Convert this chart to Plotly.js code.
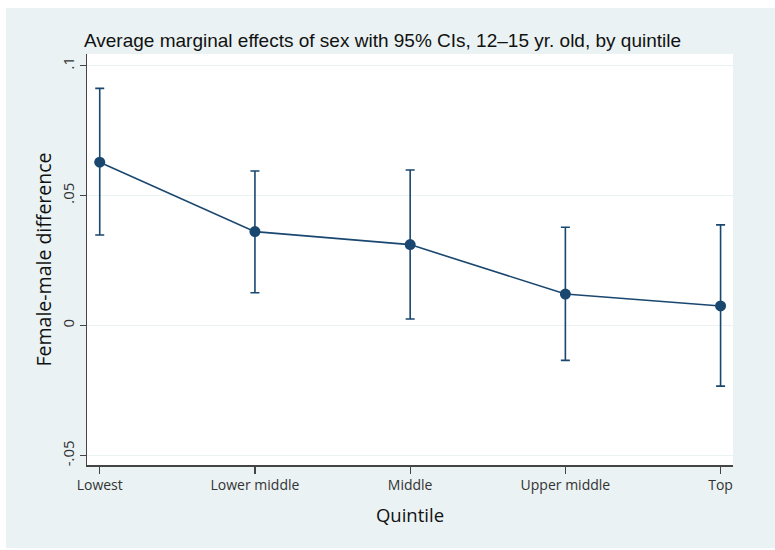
<!DOCTYPE html>
<html>
<head>
<meta charset="utf-8">
<script src="https://cdn.plot.ly/plotly-3.0.1.min.js"></script>
<style>
  html, body { margin: 0; padding: 0; background: #ffffff; }
  #chart { position: absolute; left: 6px; top: 8px; width: 769px; height: 540px; }
</style>
</head>
<body>
<div id="chart"></div>
<script>
// Income quintiles and average marginal effects (female - male) with 95% CIs
const quintiles = ["Lowest", "Lower middle", "Middle", "Upper middle", "Top"];
const effect    = [0.0628, 0.0361, 0.0311, 0.0121, 0.0075];
const ciUpper   = [0.0912, 0.0594, 0.0598, 0.0378, 0.0387];
const ciLower   = [0.0348, 0.0126, 0.0025, -0.0134, -0.0233];

const yTickVals = [-0.05, 0, 0.05, 0.1];
const yTickText = ["-.05", "0", ".05", ".1"];

const xIdx = quintiles.map((_, i) => i);
const navy = "#1a476f";

const trace = {
  x: xIdx,
  y: effect,
  type: "scatter",
  mode: "lines+markers",
  line: { color: navy, width: 1.6 },
  marker: { color: navy, size: 11 },
  error_y: {
    type: "data",
    symmetric: false,
    array: ciUpper.map((u, i) => u - effect[i]),
    arrayminus: effect.map((e, i) => e - ciLower[i]),
    color: navy,
    thickness: 1.6,
    width: 4.5
  },
  hoverinfo: "skip"
};

const sans = "Open Sans, Noto Sans, sans-serif";

const layout = {
  width: 769,
  height: 540,
  paper_bgcolor: "#eaf2f3",
  plot_bgcolor: "#ffffff",
  margin: { l: 81, r: 42, t: 46, b: 83 },
  showlegend: false,
  title: {
    text: "Average marginal effects of sex with 95% CIs, 12\u201315 yr. old, by quintile",
    font: { family: "Liberation Sans, Arial, sans-serif", size: 19, color: "#111111" },
    xref: "container", x: 0.1014, xanchor: "left",
    yref: "container", y: 0.941, yanchor: "middle"
  },
  xaxis: {
    range: [-0.082, 4.08],
    tickvals: xIdx,
    ticktext: quintiles,
    ticks: "outside",
    ticklen: 7,
    tickwidth: 1.3,
    tickcolor: "#444444",
    tickfont: { family: sans, size: 14, color: "#333333" },
    showgrid: false,
    zeroline: false,
    showline: true,
    linecolor: "#444444",
    linewidth: 1.5,
    title: { text: "Quintile", font: { family: sans, size: 18.5, color: "#111111" }, standoff: 16 }
  },
  yaxis: {
    range: [-0.05365, 0.1044],
    tickvals: yTickVals,
    ticktext: yTickText,
    tickangle: -90,
    ticks: "outside",
    ticklen: 6,
    tickwidth: 1.3,
    tickcolor: "#444444",
    tickfont: { family: sans, size: 15, color: "#333333" },
    showgrid: true,
    gridcolor: "#eaf2f3",
    gridwidth: 1.2,
    zeroline: false,
    showline: true,
    linecolor: "#444444",
    linewidth: 1.5,
    title: { text: "Female-male difference", font: { family: sans, size: 19.5, color: "#111111" }, standoff: 0 }
  }
};

Plotly.newPlot("chart", [trace], layout, { staticPlot: true, displayModeBar: false });
</script>
</body>
</html>
